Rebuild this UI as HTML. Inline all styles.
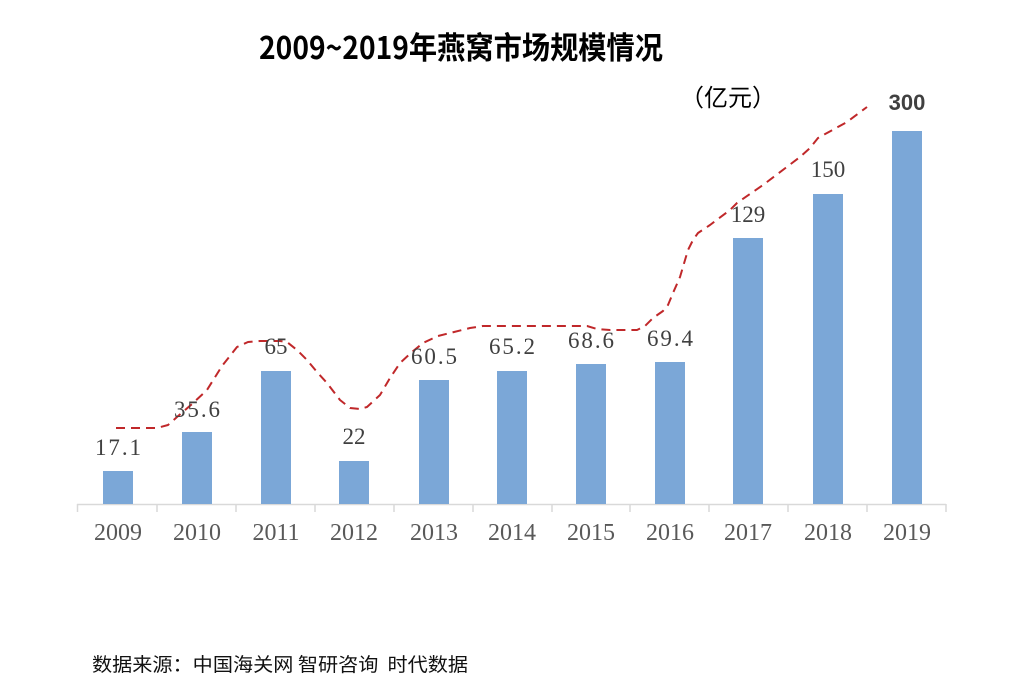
<!DOCTYPE html>
<html>
<head>
<meta charset="utf-8">
<style>
  html,body{margin:0;padding:0;background:#fff;}
  svg{display:block;}
</style>
</head>
<body>
<svg width="1028" height="692" viewBox="0 0 1028 692" xmlns="http://www.w3.org/2000/svg">
  <rect x="0" y="0" width="1028" height="692" fill="#ffffff"/>

  <!-- Title -->
  <text x="259" y="59" font-family="'Noto Sans CJK SC', 'Liberation Sans', sans-serif" font-weight="bold" font-size="31" fill="#000" textLength="404" lengthAdjust="spacingAndGlyphs">2009~2019年燕窝市场规模情况</text>

  <!-- Unit -->
  <text x="680" y="106" font-family="'Noto Sans CJK SC', sans-serif" font-size="24" fill="#000">（亿元）</text>

  <!-- Axis -->
  <line x1="77" y1="504.5" x2="946" y2="504.5" stroke="#d9d9d9" stroke-width="1.5"/>
  <g stroke="#d9d9d9" stroke-width="1.5">
    <line x1="77.5" y1="504" x2="77.5" y2="512"/>
    <line x1="157" y1="504" x2="157" y2="512"/>
    <line x1="236" y1="504" x2="236" y2="512"/>
    <line x1="315" y1="504" x2="315" y2="512"/>
    <line x1="394" y1="504" x2="394" y2="512"/>
    <line x1="473" y1="504" x2="473" y2="512"/>
    <line x1="552" y1="504" x2="552" y2="512"/>
    <line x1="630" y1="504" x2="630" y2="512"/>
    <line x1="709" y1="504" x2="709" y2="512"/>
    <line x1="788" y1="504" x2="788" y2="512"/>
    <line x1="867" y1="504" x2="867" y2="512"/>
    <line x1="946" y1="504" x2="946" y2="512"/>
  </g>

  <!-- Bars -->
  <g fill="#7ba7d7">
    <rect x="103" y="471" width="30" height="33"/>
    <rect x="182" y="432" width="30" height="72"/>
    <rect x="261" y="371" width="30" height="133"/>
    <rect x="339" y="461" width="30" height="43"/>
    <rect x="419" y="380" width="30" height="124"/>
    <rect x="497" y="371" width="30" height="133"/>
    <rect x="576" y="364" width="30" height="140"/>
    <rect x="655" y="362" width="30" height="142"/>
    <rect x="733" y="238" width="30" height="266"/>
    <rect x="813" y="194" width="30" height="310"/>
    <rect x="892" y="131" width="30" height="373"/>
  </g>

  <!-- Dashed trend line -->
  <path d="M116,428 L157,428 L168,425 L177,417 L192,404 L207,390 L222,366 L237,347 L248,342 L260,341 L280,341 L287,342 L297,350 L307,360 L317,372 L327,383 L340,400 L350,408 L360,409 L367,407 L380,395 L390,378 L400,363 L412,352 L423,343 L438,336 L450,333 L470,328 L483,326 L587,326 L597,329 L610,330 L637,330 L645,326 L653,318 L663,311 L668,305 L673,293 L680,277 L688,250 L693,240 L698,233 L710,225 L730,210 L737,203 L763,185 L800,157 L810,148 L818,138 L827,133 L847,122 L867,107"
        fill="none" stroke="#c0282a" stroke-width="2" stroke-dasharray="9 6" stroke-linejoin="round"/>

  <!-- Data labels -->
  <g font-family="'Liberation Serif', serif" font-size="23" fill="#404040" text-anchor="middle">
    <text x="118" y="455" textLength="46" lengthAdjust="spacing">17.1</text>
    <text x="197" y="417" textLength="46" lengthAdjust="spacing">35.6</text>
    <text x="276" y="354">65</text>
    <text x="354" y="444">22</text>
    <text x="434" y="364" textLength="46" lengthAdjust="spacing">60.5</text>
    <text x="512" y="354" textLength="46" lengthAdjust="spacing">65.2</text>
    <text x="591" y="348" textLength="46" lengthAdjust="spacing">68.6</text>
    <text x="670" y="346" textLength="46" lengthAdjust="spacing">69.4</text>
    <text x="748" y="222">129</text>
    <text x="828" y="177">150</text>
  </g>
  <text x="907" y="110" font-family="'Liberation Sans', sans-serif" font-weight="bold" font-size="22" fill="#404040" text-anchor="middle">300</text>

  <!-- Category labels -->
  <g font-family="'Liberation Serif', serif" font-size="24" fill="#595959" text-anchor="middle">
    <text x="118" y="540">2009</text>
    <text x="197" y="540">2010</text>
    <text x="276" y="540">2011</text>
    <text x="354" y="540">2012</text>
    <text x="434" y="540">2013</text>
    <text x="512" y="540">2014</text>
    <text x="591" y="540">2015</text>
    <text x="670" y="540">2016</text>
    <text x="748" y="540">2017</text>
    <text x="828" y="540">2018</text>
    <text x="907" y="540">2019</text>
  </g>

  <!-- Source -->
  <text x="92" y="671" font-family="'Noto Sans CJK SC', 'Liberation Sans', sans-serif" font-size="19" fill="#111" textLength="376" lengthAdjust="spacingAndGlyphs" xml:space="preserve">数据来源：中国海关网 智研咨询  时代数据</text>
</svg>
</body>
</html>
